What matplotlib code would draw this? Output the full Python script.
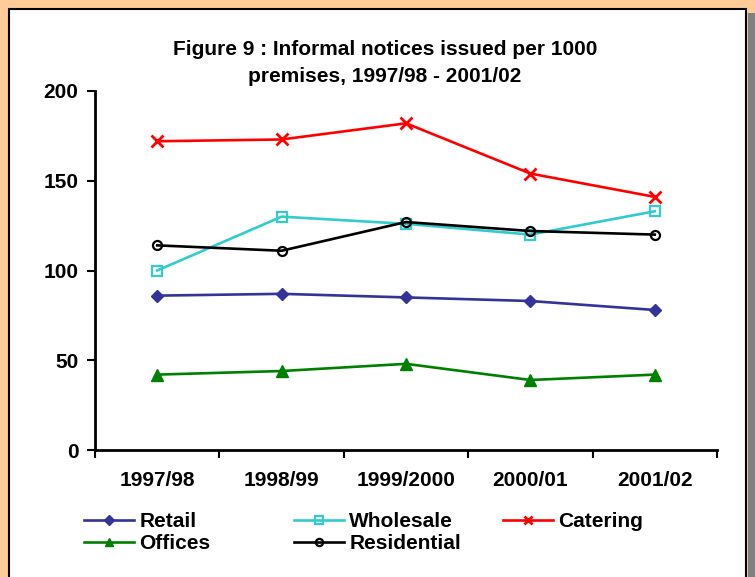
import matplotlib
matplotlib.use('Agg')
import matplotlib.pyplot as plt
from matplotlib.patches import Rectangle

plt.rcParams['font.family'] = ['Liberation Sans', 'DejaVu Sans']
plt.rcParams['font.weight'] = 'bold'

years = ['1997/98', '1998/99', '1999/2000', '2000/01', '2001/02']
retail = [86, 87, 85, 83, 78]
wholesale = [100, 130, 126, 120, 133]
catering = [172, 173, 182, 154, 141]
offices = [42, 44, 48, 39, 42]
residential = [114, 111, 127, 122, 120]

fig = plt.figure(figsize=(7.55, 5.77), dpi=100)
fig.patch.set_facecolor('#FFCC99')

# grey shadow + white framed panel
fig.patches.append(Rectangle((748 / 755, -0.1), 7 / 755, 1 - 13 / 577 + 0.1,
                             transform=fig.transFigure, facecolor='#808080',
                             edgecolor='none', zorder=-2))
fig.patches.append(Rectangle((9 / 755, -0.1), 737 / 755, 1 - 9 / 577 + 0.1,
                             transform=fig.transFigure, facecolor='white',
                             edgecolor='black', linewidth=1.5, zorder=-1))

ax = fig.add_axes([95 / 755, 1 - 450 / 577, 622 / 755, 359 / 577])
ax.set_facecolor('none')

x = list(range(len(years)))
lw = 1.9
h1, = ax.plot(x, retail, color='#333399', lw=lw, marker='D', ms=6, label='Retail')
h2, = ax.plot(x, wholesale, color='#33CCCC', lw=lw, marker='s', ms=7,
              mfc='none', mew=1.6, label='Wholesale')
h3, = ax.plot(x, catering, color='#FF0000', lw=lw, marker='x', ms=8,
              mew=2, label='Catering')
h4, = ax.plot(x, offices, color='#008000', lw=lw, marker='^', ms=8, label='Offices')
h5, = ax.plot(x, residential, color='black', lw=lw, marker='o', ms=6.5,
              mfc='none', mew=1.6, label='Residential')

ax.set_xlim(-0.5, 4.5)
ax.set_ylim(0, 200)
ax.set_yticks([0, 50, 100, 150, 200])
ax.set_xticks(x)
ax.set_xticklabels(years)
ax.set_xticks([-0.5, 0.5, 1.5, 2.5, 3.5, 4.5], minor=True)
ax.tick_params(axis='x', which='major', length=0, pad=15, labelsize=15)
ax.tick_params(axis='x', which='minor', length=6, width=1.5, direction='out')
ax.tick_params(axis='y', length=6, width=1.5, direction='out', labelsize=15, pad=6)
for s in ['top', 'right']:
    ax.spines[s].set_visible(False)
for s in ['left', 'bottom']:
    ax.spines[s].set_linewidth(2)

fig.text(385 / 755, 1 - 63 / 577,
         'Figure 9 : Informal notices issued per 1000\npremises, 1997/98 - 2001/02',
         ha='center', va='center', fontsize=15, fontweight='bold', linespacing=1.55)

cols = [([h1, h4], 84), ([h2, h5], 294), ([h3], 503)]
for hs, px in cols:
    fig.legend(handles=hs, loc='upper left',
               bbox_to_anchor=(px / 755, 1 - 512 / 577),
               frameon=False, fontsize=15, handlelength=2.4,
               handletextpad=0.25, labelspacing=0.15,
               borderpad=0, borderaxespad=0, markerscale=0.8)

fig.savefig('out.png', dpi=100, facecolor=fig.get_facecolor())
